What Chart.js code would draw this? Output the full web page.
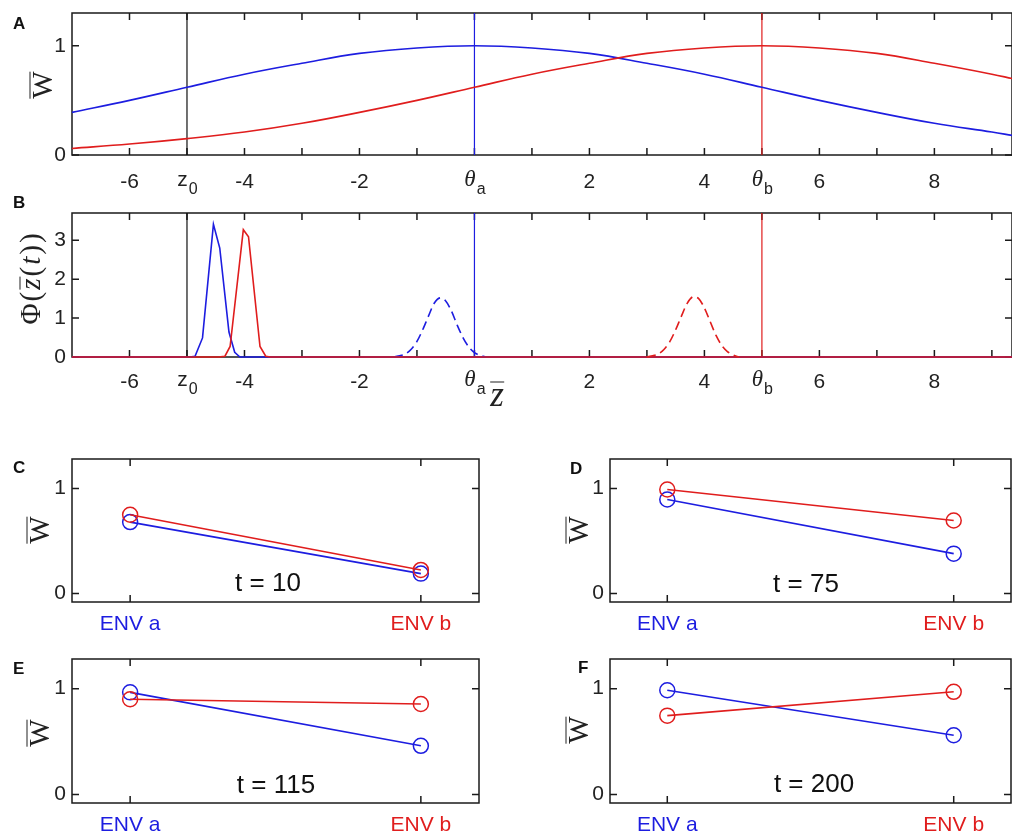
<!DOCTYPE html>
<html>
<head>
<meta charset="utf-8">
<script src="https://cdn.jsdelivr.net/npm/chart.js@4.4.0/dist/chart.umd.min.js"></script>
<style>
  body { margin: 0; background: #fff; overflow: hidden; }
  #fig { position: relative; width: 1012px; height: 839px; overflow: hidden; font-family: "Liberation Sans", Arial, sans-serif; }
  .panel { position: absolute; }
  .letter { position: absolute; font-weight: bold; font-size: 17px; line-height: 1; color: #111; }
  .ylab { position: absolute; font-family: "Liberation Serif", serif; font-size: 29px; line-height: 1; color: #222;
          transform: translate(-50%, -50%) rotate(-90deg); white-space: nowrap; }
  .bar { display: inline-block; border-top: 1.5px solid #222; line-height: 0.72; padding-top: 1px; }
  .tlab { position: absolute; font-size: 26px; line-height: 1; color: #111; transform: translate(-50%, -50%); white-space: nowrap; }
</style>
</head>
<body>
<div id="fig">
  <div class="panel" style="left:0px;top:0px"><canvas id="panelA" width="1020" height="195"></canvas></div>
  <div class="panel" style="left:0px;top:195px"><canvas id="panelB" width="1020" height="215"></canvas></div>
  <div class="panel" style="left:0px;top:420px"><canvas id="panelC" width="500" height="215"></canvas></div>
  <div class="panel" style="left:500px;top:420px"><canvas id="panelD" width="520" height="215"></canvas></div>
  <div class="panel" style="left:0px;top:630px"><canvas id="panelE" width="500" height="209"></canvas></div>
  <div class="panel" style="left:500px;top:630px"><canvas id="panelF" width="520" height="209"></canvas></div>

  <div class="letter" style="left:13px;top:15px">A</div>
  <div class="letter" style="left:13px;top:194px">B</div>
  <div class="letter" style="left:13px;top:459px">C</div>
  <div class="letter" style="left:570px;top:460px">D</div>
  <div class="letter" style="left:13px;top:660px">E</div>
  <div class="letter" style="left:578px;top:659px">F</div>

  <div class="ylab" style="left:42px;top:85px"><span class="bar">W</span></div>
  <div class="ylab" style="left:30px;top:278px;letter-spacing:2px">&Phi;(<i class="bar" style="line-height:0.6">z</i>(<i>t</i>))</div>
  <div class="ylab" style="left:39px;top:530px"><span class="bar">W</span></div>
  <div class="ylab" style="left:578px;top:530px"><span class="bar">W</span></div>
  <div class="ylab" style="left:39px;top:733px"><span class="bar">W</span></div>
  <div class="ylab" style="left:578px;top:730px"><span class="bar">W</span></div>
  <div class="tlab" style="left:497px;top:394px;font-family:'Liberation Serif',serif;font-size:35px;color:#222"><i class="bar" style="line-height:0.6">z</i></div>

  <div class="tlab" style="left:268px;top:582px">t = 10</div>
  <div class="tlab" style="left:806px;top:583px">t = 75</div>
  <div class="tlab" style="left:276px;top:784px">t = 115</div>
  <div class="tlab" style="left:814px;top:783px">t = 200</div>
</div>
<script>
// ---- panel A: mean fitness along z for the two environments
const zGrid = [-7, -6, -5, -4, -3, -2, -1, 0, 1, 2, 3, 4, 5, 6, 7, 8, 9, 9.35];
const fitnessEnvA = [0.39, 0.50, 0.62, 0.74, 0.84, 0.93, 0.98, 1.00, 0.98, 0.93, 0.84, 0.74, 0.62, 0.50, 0.39, 0.29, 0.21, 0.18];
const fitnessEnvB = [0.06, 0.10, 0.15, 0.21, 0.29, 0.39, 0.50, 0.62, 0.74, 0.84, 0.93, 0.98, 1.00, 0.98, 0.93, 0.84, 0.74, 0.70];

// reference positions: z0, theta a, theta b
const markerZ = [-5, 0, 5];

// x ticks / labels for A and B
const zTicks = [-6, -5, -4, -3, -2, -1, 0, 1, 2, 3, 4, 5, 6, 7, 8, 9];
const zLabelValues = [-6, -5, -4, -2, 0, 2, 4, 5, 6, 8];
const zLabelTexts = ['-6', 'z_0', '-4', '-2', 'θ_a', '2', '4', 'θ_b', '6', '8'];

// ---- panel B: distributions of mean phenotype (solid = start, dashed = later)
const phiStartAx = [-7, -4.95, -4.86, -4.73, -4.54, -4.43, -4.27, -4.17, -4.08, 9.35];
const phiStartAy = [0, 0, 0.02, 0.49, 3.41, 2.80, 0.64, 0.12, 0, 0];
const phiStartBx = [-7, -4.45, -4.34, -4.25, -4.02, -3.93, -3.73, -3.63, -3.55, 9.35];
const phiStartBy = [0, 0, 0.02, 0.27, 3.27, 3.09, 0.27, 0.02, 0, 0];
const phiLateAx = [-1.4, -1.3, -1.2, -1.1, -1.0, -0.9, -0.8, -0.7, -0.6, -0.5, -0.4, -0.3, -0.2, -0.1, 0, 0.1, 0.2];
const phiLateAy = [0, 0.03, 0.08, 0.20, 0.40, 0.70, 1.05, 1.38, 1.52, 1.44, 1.18, 0.82, 0.50, 0.26, 0.11, 0.04, 0];
const phiLateBx = [3.0, 3.1, 3.2, 3.3, 3.4, 3.5, 3.6, 3.7, 3.8, 3.9, 4.0, 4.1, 4.2, 4.3, 4.4, 4.5, 4.6];
const phiLateBy = [0, 0.03, 0.08, 0.20, 0.40, 0.70, 1.05, 1.38, 1.55, 1.50, 1.26, 0.91, 0.56, 0.30, 0.14, 0.05, 0];

// ---- panels C-F: mean fitness in each environment at several times
const envPos = [1, 2];
const envLabels = ['ENV a', 'ENV b'];
const wBarA_t10 = [0.68, 0.19], wBarB_t10 = [0.75, 0.225];
const wBarA_t75 = [0.895, 0.38], wBarB_t75 = [0.99, 0.695];
const wBarA_t115 = [0.965, 0.46], wBarB_t115 = [0.90, 0.855];
const wBarA_t200 = [0.985, 0.56], wBarB_t200 = [0.745, 0.97];

const BLUE = '#1d1de0';
const RED = '#e01d1d';
const INK = '#222';

function pts(xs, ys) { return xs.map((x, i) => ({ x: x, y: ys[i] })); }

// MATLAB-like box with inward ticks, and tick labels drawn from the scales
const boxAxes = {
  id: 'boxAxes',
  beforeDatasetsDraw(chart, args, o) {
    const { ctx, chartArea: a } = chart;
    const x = chart.scales.x, y = chart.scales.y;
    ctx.save();
    ctx.strokeStyle = '#1a1a1a';
    ctx.lineWidth = 1.5;
    ctx.strokeRect(a.left, a.top, a.right - a.left, a.bottom - a.top);
    ctx.beginPath();
    o.xTicks.forEach(v => {
      const px = x.getPixelForValue(v);
      ctx.moveTo(px, a.bottom); ctx.lineTo(px, a.bottom - 7);
      ctx.moveTo(px, a.top); ctx.lineTo(px, a.top + 7);
    });
    o.yTicks.forEach(v => {
      const py = y.getPixelForValue(v);
      ctx.moveTo(a.left, py); ctx.lineTo(a.left + 7, py);
      ctx.moveTo(a.right, py); ctx.lineTo(a.right - 7, py);
    });
    ctx.stroke();
    ctx.restore();
  },
  afterDraw(chart, args, o) {
    const { ctx, chartArea: a } = chart;
    const x = chart.scales.x, y = chart.scales.y;
    ctx.save();
    ctx.textBaseline = 'middle';
    // y labels
    ctx.fillStyle = INK;
    ctx.font = '21px "Liberation Sans", Arial, sans-serif';
    ctx.textAlign = 'right';
    o.yTicks.forEach(v => ctx.fillText(String(v), a.left - 6, y.getPixelForValue(v)));
    // x labels (with optional subscript)
    o.xLabelValues.forEach((v, i) => {
      const px = x.getPixelForValue(v);
      const py = a.bottom + o.xOffset;
      const parts = o.xLabelTexts[i].split('_');
      ctx.fillStyle = o.xColors ? o.xColors[i] : INK;
      ctx.textAlign = 'left';
      const mainFont = parts[0] === 'θ' ? 'italic 23px "Liberation Serif", serif' : '21px "Liberation Sans", Arial, sans-serif';
      ctx.font = mainFont;
      const w1 = ctx.measureText(parts[0]).width;
      let w2 = 0;
      if (parts[1]) {
        ctx.font = '16px "Liberation Sans", Arial, sans-serif';
        w2 = ctx.measureText(parts[1]).width;
      }
      const x0 = px - (w1 + w2) / 2;
      ctx.font = mainFont;
      ctx.fillText(parts[0], x0, py - (parts[1] ? 2 : 0));
      if (parts[1]) {
        ctx.font = '16px "Liberation Sans", Arial, sans-serif';
        ctx.fillText(parts[1], x0 + w1 + 1, py + 8);
      }
    });
    ctx.restore();
  }
};

function makeChart(id, datasets, box) {
  // Chart.js paints the first dataset on top, so list them top-first
  return new Chart(document.getElementById(id), {
    type: 'line',
    data: { datasets: datasets },
    plugins: [boxAxes],
    options: {
      responsive: false,
      animation: false,
      events: [],
      layout: { padding: { top: box.top, right: box.right, left: 0, bottom: 0 } },
      plugins: {
        legend: { display: false },
        tooltip: { enabled: false },
        boxAxes: box
      },
      scales: {
        x: {
          type: 'linear', min: box.xMin, max: box.xMax,
          ticks: { display: false }, grid: { display: false }, border: { display: false },
          afterFit: s => { s.height = box.xSpace; }
        },
        y: {
          type: 'linear', min: box.yMin, max: box.yMax,
          ticks: { display: false }, grid: { display: false }, border: { display: false },
          afterFit: s => { s.width = box.ySpace; }
        }
      }
    }
  });
}

function curve(xs, ys, color, extra) {
  return Object.assign({ data: pts(xs, ys), borderColor: color, borderWidth: 1.6, pointRadius: 0, fill: false, clip: 3 }, extra || {});
}

function markers(yMin, yMax) {
  const colors = ['#111', BLUE, RED];
  return markerZ.map((z, i) => curve([z, z], [yMin, yMax], colors[i], { borderWidth: 1.2, tension: 0 }));
}

// panel A
makeChart('panelA', [
  curve(zGrid, fitnessEnvB, RED, { tension: 0.4 }),
  curve(zGrid, fitnessEnvA, BLUE, { tension: 0.4 }),
  ...markers(0, 1.3)
], { top: 13, right: 8, xSpace: 40, ySpace: 72, xMin: -7, xMax: 9.35, yMin: 0, yMax: 1.3,
     xTicks: zTicks, yTicks: [0, 1], xLabelValues: zLabelValues, xLabelTexts: zLabelTexts, xOffset: 27 });

// panel B
makeChart('panelB', [
  curve(phiLateBx, phiLateBy, RED, { tension: 0.3, borderDash: [9, 5] }),
  curve(phiStartBx, phiStartBy, RED, { tension: 0 }),
  curve(phiLateAx, phiLateAy, BLUE, { tension: 0.3, borderDash: [9, 5] }),
  curve(phiStartAx, phiStartAy, BLUE, { tension: 0 }),
  ...markers(0, 3.7)
], { top: 18, right: 8, xSpace: 53, ySpace: 72, xMin: -7, xMax: 9.35, yMin: 0, yMax: 3.7,
     xTicks: zTicks, yTicks: [0, 1, 2, 3], xLabelValues: zLabelValues, xLabelTexts: zLabelTexts, xOffset: 25 });

// panels C-F
function envPanel(id, blueVals, redVals, box) {
  const style = { tension: 0, pointRadius: 7.5, pointStyle: 'circle', pointBorderWidth: 1.5, pointBackgroundColor: 'rgba(0,0,0,0)' };
  makeChart(id, [
    curve(envPos, redVals, RED, Object.assign({ pointBorderColor: RED }, style)),
    curve(envPos, blueVals, BLUE, Object.assign({ pointBorderColor: BLUE }, style))
  ], Object.assign({ xMin: 0.8, xMax: 2.2, yMin: -0.08, yMax: 1.28, xTicks: envPos, yTicks: [0, 1],
     xLabelValues: envPos, xLabelTexts: envLabels, xColors: [BLUE, RED], xOffset: 22 }, box));
}

envPanel('panelC', wBarA_t10, wBarB_t10, { top: 39, right: 21, xSpace: 33, ySpace: 72 });
envPanel('panelD', wBarA_t75, wBarB_t75, { top: 39, right: 3, xSpace: 33, ySpace: 110 });
envPanel('panelE', wBarA_t115, wBarB_t115, { top: 29, right: 21, xSpace: 36, ySpace: 72 });
envPanel('panelF', wBarA_t200, wBarB_t200, { top: 29, right: 3, xSpace: 36, ySpace: 110 });
</script>
</body>
</html>
